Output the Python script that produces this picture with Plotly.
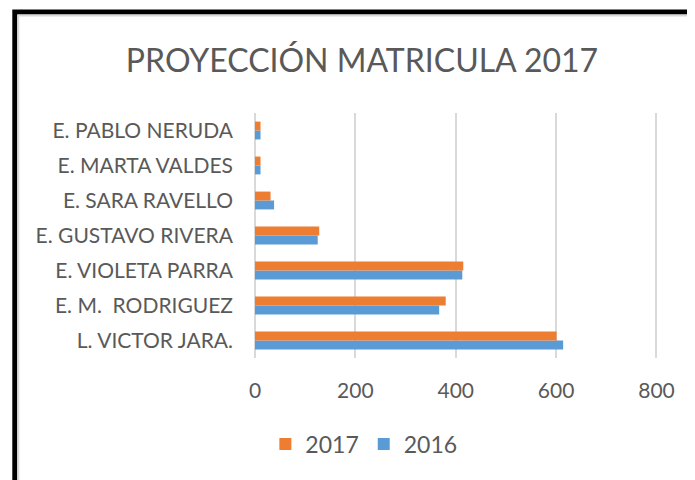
import plotly.graph_objects as go

# Data (bottom to top, as plotted)
categories = [
    "L. VICTOR JARA.",
    "E. M.\u00a0 RODRIGUEZ",
    "E. VIOLETA PARRA",
    "E. GUSTAVO RIVERA",
    "E. SARA RAVELLO",
    "E. MARTA VALDES",
    "E. PABLO NERUDA",
]
values_2016 = [614, 367, 413, 125, 38, 11, 11]
values_2017 = [601, 380, 415, 128, 31, 11, 11]
x_ticks = [0, 200, 400, 600, 800]

ORANGE = "#ED7D31"
BLUE = "#5B9BD5"
TEXT = "#595959"
FONT = "Lato"

fig = go.Figure()
fig.add_trace(go.Bar(y=categories, x=values_2016, name="2016", orientation="h",
                     marker=dict(color=BLUE, line=dict(width=0))))
fig.add_trace(go.Bar(y=categories, x=values_2017, name="2017", orientation="h",
                     marker=dict(color=ORANGE, line=dict(width=0))))

OFF = 8  # page body margin
W, H = 695 - OFF, 480 - OFF
# target pixel positions in the screenshot, shifted by the page margin
L, R, T, B = 255 - OFF, 659.5 - OFF, 113 - OFF, 358 - OFF
pw, ph = R - L, B - T

def px(x):
    return (x - OFF - L) / pw

def py(y):
    return (B - (y - OFF)) / ph

fig.update_layout(
    width=W, height=H,
    margin=dict(l=L, r=W - R, t=T, b=H - B, autoexpand=False),
    paper_bgcolor="white", plot_bgcolor="white",
    barmode="group", bargap=0.49, bargroupgap=0,
    font=dict(family=FONT, color=TEXT, size=21),
    title=dict(text="PROYECCIÓN MATRICULA 2017", xref="container", yref="container",
               x=(362 - OFF) / W, xanchor="center", y=1 - (61 - OFF) / H, yanchor="middle",
               font=dict(family=FONT, size=32, color=TEXT)),
    xaxis=dict(range=[0, 805], tickvals=x_ticks, showgrid=True, gridcolor="#D9D9D9",
               gridwidth=2, zeroline=False, showline=False, ticks="",
               ticklabelstandoff=18, fixedrange=True),
    yaxis=dict(type="category", categoryorder="array", categoryarray=categories,
               showgrid=False, zeroline=False, showline=False, ticks="",
               ticklabelstandoff=21),
    legend=dict(orientation="h", traceorder="reversed", x=px(364), xanchor="center",
                y=py(444), yanchor="middle", font=dict(size=23, color=TEXT),
                itemwidth=30),
    showlegend=True,
    shapes=[
        dict(type="line", xref="paper", yref="paper", x0=0, x1=0,
             y0=0, y1=1, line=dict(color="#D9D9D9", width=2), layer="below"),
        dict(type="rect", xref="paper", yref="paper", x0=px(14.5), x1=px(720),
             y0=py(500), y1=py(12), line=dict(color="black", width=5)),
        dict(type="rect", xref="paper", yref="paper", x0=px(18), x1=px(720),
             y0=py(500), y1=py(15.5), line=dict(color="#D9D9D9", width=2)),
    ],
)

fig.write_html("out.html")
